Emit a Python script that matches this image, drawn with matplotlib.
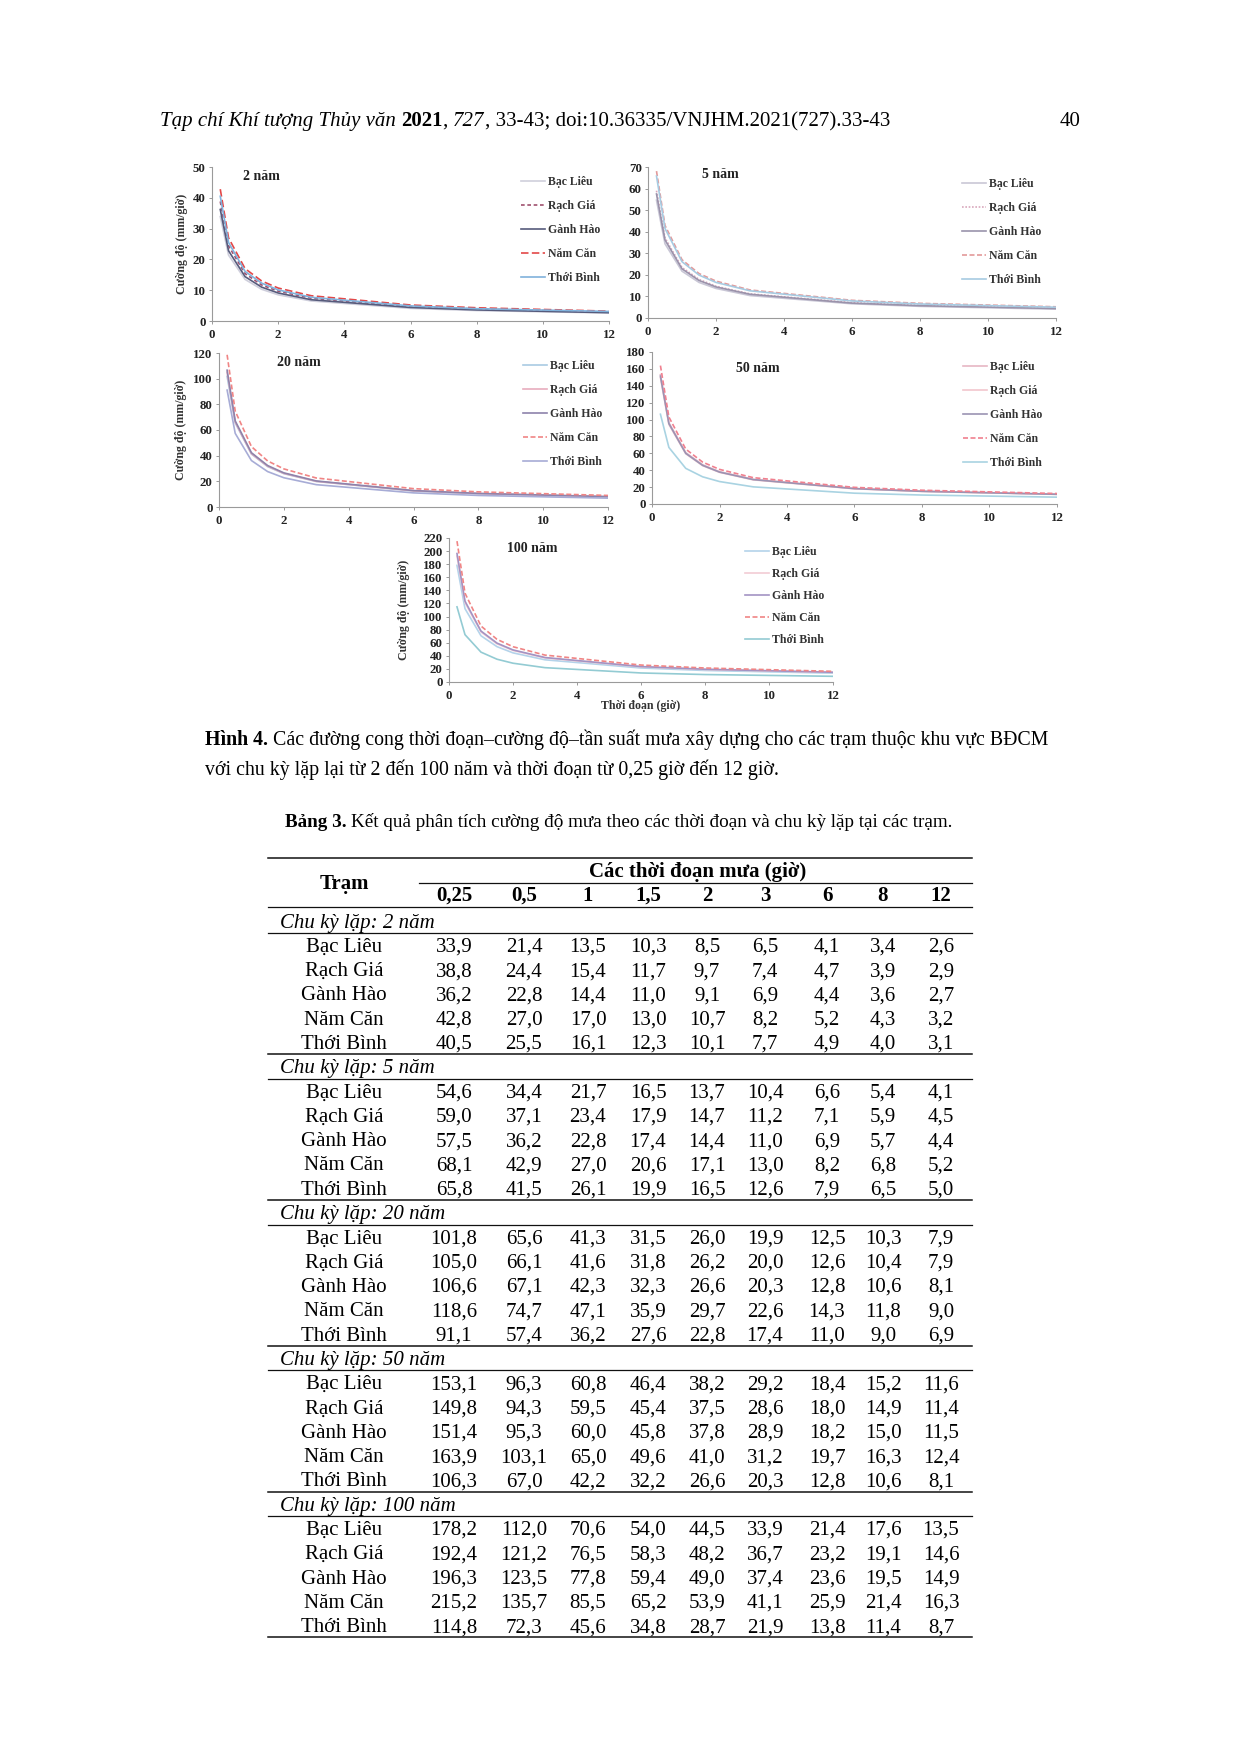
import matplotlib
matplotlib.use("Agg")
import matplotlib.pyplot as plt
from matplotlib.lines import Line2D

W, H, DPI = 1240, 1753, 100

# ---------------- data ----------------
stations = ["Bạc Liêu", "Rạch Giá", "Gành Hào", "Năm Căn", "Thới Bình"]
durations = [0.25, 0.5, 1, 1.5, 2, 3, 6, 8, 12]
duration_labels = ["0,25", "0,5", "1", "1,5", "2", "3", "6", "8", "12"]
period_names = ["2 năm", "5 năm", "20 năm", "50 năm", "100 năm"]

i_2nam = [
    [33.9, 21.4, 13.5, 10.3, 8.5, 6.5, 4.1, 3.4, 2.6],
    [38.8, 24.4, 15.4, 11.7, 9.7, 7.4, 4.7, 3.9, 2.9],
    [36.2, 22.8, 14.4, 11.0, 9.1, 6.9, 4.4, 3.6, 2.7],
    [42.8, 27.0, 17.0, 13.0, 10.7, 8.2, 5.2, 4.3, 3.2],
    [40.5, 25.5, 16.1, 12.3, 10.1, 7.7, 4.9, 4.0, 3.1],
]
i_5nam = [
    [54.6, 34.4, 21.7, 16.5, 13.7, 10.4, 6.6, 5.4, 4.1],
    [59.0, 37.1, 23.4, 17.9, 14.7, 11.2, 7.1, 5.9, 4.5],
    [57.5, 36.2, 22.8, 17.4, 14.4, 11.0, 6.9, 5.7, 4.4],
    [68.1, 42.9, 27.0, 20.6, 17.1, 13.0, 8.2, 6.8, 5.2],
    [65.8, 41.5, 26.1, 19.9, 16.5, 12.6, 7.9, 6.5, 5.0],
]
i_20nam = [
    [101.8, 65.6, 41.3, 31.5, 26.0, 19.9, 12.5, 10.3, 7.9],
    [105.0, 66.1, 41.6, 31.8, 26.2, 20.0, 12.6, 10.4, 7.9],
    [106.6, 67.1, 42.3, 32.3, 26.6, 20.3, 12.8, 10.6, 8.1],
    [118.6, 74.7, 47.1, 35.9, 29.7, 22.6, 14.3, 11.8, 9.0],
    [91.1, 57.4, 36.2, 27.6, 22.8, 17.4, 11.0, 9.0, 6.9],
]
i_50nam = [
    [153.1, 96.3, 60.8, 46.4, 38.2, 29.2, 18.4, 15.2, 11.6],
    [149.8, 94.3, 59.5, 45.4, 37.5, 28.6, 18.0, 14.9, 11.4],
    [151.4, 95.3, 60.0, 45.8, 37.8, 28.9, 18.2, 15.0, 11.5],
    [163.9, 103.1, 65.0, 49.6, 41.0, 31.2, 19.7, 16.3, 12.4],
    [106.3, 67.0, 42.2, 32.2, 26.6, 20.3, 12.8, 10.6, 8.1],
]
i_100nam = [
    [178.2, 112.0, 70.6, 54.0, 44.5, 33.9, 21.4, 17.6, 13.5],
    [192.4, 121.2, 76.5, 58.3, 48.2, 36.7, 23.2, 19.1, 14.6],
    [196.3, 123.5, 77.8, 59.4, 49.0, 37.4, 23.6, 19.5, 14.9],
    [215.2, 135.7, 85.5, 65.2, 53.9, 41.1, 25.9, 21.4, 16.3],
    [114.8, 72.3, 45.6, 34.8, 28.7, 21.9, 13.8, 11.4, 8.7],
]
all_periods = [i_2nam, i_5nam, i_20nam, i_50nam, i_100nam]
y_max = [50, 70, 120, 180, 220]
y_step = [10, 10, 20, 20, 20]

# ---------------- styles ----------------
SERIF = ["Liberation Serif", "DejaVu Serif"]
plt.rcParams["font.family"] = SERIF

line_styles = [
    [("#cfcfdc", "-"), ("#a0506e", (0, (2.2, 1.6))), ("#565b7c", "-"), ("#e34848", (0, (4.5, 2))), ("#80b2dc", "-")],
    [("#c9c7d6", "-"), ("#d8a8bc", (0, (1, 1))), ("#9a93ab", "-"), ("#e39a9a", (0, (3, 1.5))), ("#a7cbe2", "-")],
    [("#a9cbe3", "-"), ("#e7adbd", "-"), ("#8d83ab", "-"), ("#f08585", (0, (3, 1.5))), ("#a7acd6", "-")],
    [("#e6b6c4", "-"), ("#f2c6cd", "-"), ("#9b93b3", "-"), ("#f0808f", (0, (3, 1.5))), ("#a9d3e2", "-")],
    [("#b4d3ea", "-"), ("#f2ccd4", "-"), ("#a393c3", "-"), ("#f08585", (0, (3, 1.5))), ("#93cbd3", "-")],
]

# axes boxes in pixels: left, right, top(ymax), bottom(0)
boxes = [
    (212, 609, 167, 321),
    (648, 1056, 167, 318),
    (219, 608, 353, 507),
    (652, 1057, 352, 504),
    (449, 833, 538, 682),
]
titles_px = [(243, 176), (702, 175), (277, 363), (736, 369), (507, 548)]
legend_px = [(521, 176, 25), (962, 178, 25), (523, 360, 25), (963, 361, 25), (745, 546, 23)]
ylabel_axes = [True, False, True, False, True]

fig = plt.figure(figsize=(W / DPI, H / DPI), dpi=DPI)
fig.patch.set_facecolor("white")


def fx(x):
    return x / W


def fy(y):
    return 1 - y / H


for k, data in enumerate(all_periods):
    l, r, t, b = boxes[k]
    ax = fig.add_axes([fx(l), fy(b), (r - l) / W, (b - t) / H])
    for s, name in enumerate(stations):
        c, ls = line_styles[k][s]
        ax.plot(durations, data[s], color=c, linestyle=ls, lw=1.2, label=name)
    ax.set_xlim(0, 12)
    ax.set_ylim(0, y_max[k])
    ax.set_xticks(range(0, 13, 2))
    ax.set_yticks(range(0, y_max[k] + 1, y_step[k]))
    for sp in ["top", "right"]:
        ax.spines[sp].set_visible(False)
    for sp in ["left", "bottom"]:
        ax.spines[sp].set_color("#9a9a9a")
        ax.spines[sp].set_linewidth(0.8)
    ax.tick_params(axis="both", direction="out", length=2.5, width=0.7, color="#9a9a9a",
                   labelsize=9.3, labelcolor="#222222")
    ax.tick_params(axis="x", pad=3)
    ax.tick_params(axis="y", pad=2)
    for lab in ax.get_xticklabels() + ax.get_yticklabels():
        lab.set_fontweight("bold")
    ax.patch.set_alpha(0)
    tx, ty = titles_px[k]
    fig.text(fx(tx), fy(ty), period_names[k], fontsize=10, fontweight="bold",
             ha="left", va="center", color="#222222")
    if ylabel_axes[k]:
        ax.set_ylabel("Cường độ (mm/giờ)", fontsize=8.6, fontweight="bold", color="#333333")
        lx = {0: 188, 2: 187, 4: 410}[k]
        ax.yaxis.set_label_coords((lx - l) / (r - l), 0.5)
    if k == 4:
        ax.set_xlabel("Thời đoạn (giờ)", fontsize=8.6, fontweight="bold", color="#333333")
        ax.xaxis.set_label_coords(0.5, -(700 - b) / (b - t))
    gx, gy, pitch = legend_px[k]
    leg = ax.legend(loc="upper left", bbox_to_anchor=(fx(gx), fy(gy)), bbox_transform=fig.transFigure,
                    frameon=False, borderpad=0, borderaxespad=0, handlelength=2.0, handletextpad=0.25,
                    labelspacing=(pitch - 13) / 11.8,
                    prop={"family": SERIF, "weight": "bold", "size": 8.5})
    for txt in leg.get_texts():
        txt.set_color("#333333")

# ---------------- page text ----------------
fig.canvas.draw()
rend = fig.canvas.get_renderer()


def text_w(s, **kw):
    t = fig.text(0, 0, s, **kw)
    w = t.get_window_extent(renderer=rend).width
    t.remove()
    return w


def rich(x, y, pieces, size):
    # pieces: (text, style, weight, space_after)
    for txt, style, weight, space in pieces:
        kw = dict(fontsize=size, style=style, fontweight=weight)
        fig.text(fx(x), fy(y), txt, ha="left", va="baseline", **kw)
        x += text_w(txt, **kw)
        if space:
            x += text_w("a a", **kw) - text_w("aa", **kw)


HS = 15
rich(160, 126, [
    ("Tạp chí Khí tượng Thủy văn", "italic", "normal", True),
    ("2021", "normal", "bold", False),
    (",", "normal", "normal", True),
    ("727", "italic", "normal", False),
    (", 33-43; doi:10.36335/VNJHM.2021(727).33-43", "normal", "normal", False),
], HS)
fig.text(fx(1080), fy(126), "40", fontsize=HS, ha="right", va="baseline")

CS = 14.35
rich(205, 745, [
    ("Hình 4.", "normal", "bold", True),
    ("Các đường cong thời đoạn–cường độ–tần suất mưa xây dựng cho các trạm thuộc khu vực BĐCM",
     "normal", "normal", False),
], CS)
rich(205, 775, [
    ("với chu kỳ lặp lại từ 2 đến 100 năm và thời đoạn từ 0,25 giờ đến 12 giờ.", "normal", "normal", False),
], CS)
rich(285, 827, [
    ("Bảng 3.", "normal", "bold", True),
    ("Kết quả phân tích cường độ mưa theo các thời đoạn và chu kỳ lặp tại các trạm.", "normal", "normal", False),
], 13.8)

# ---------------- table ----------------
TS = 15
BL = 6.5  # baseline offset from visual center
col_x = [454, 524, 588, 648, 707, 765, 827, 883, 941]
name_x = 344
tab_l, tab_r = 268, 972


def hline(y, x0=tab_l, x1=tab_r, lw=0.9):
    fig.add_artist(Line2D([fx(x0), fx(x1)], [fy(y), fy(y)], color="#111111", lw=lw,
                          transform=fig.transFigure))


hline(857.5, lw=1.1)
fig.text(fx(698), fy(871 + BL), "Các thời đoạn mưa (giờ)", fontsize=TS, fontweight="bold",
         ha="center", va="baseline")
hline(883, x0=419)
fig.text(fx(name_x), fy(882 + BL), "Trạm", fontsize=TS, fontweight="bold", ha="center", va="baseline")
for cx, lab in zip(col_x, duration_labels):
    fig.text(fx(cx), fy(894.5 + BL), lab, fontsize=TS, fontweight="bold", ha="center", va="baseline")
hline(907)

pitch = 24.3
y0 = 921
for s, data in enumerate(all_periods):
    ylab = y0 + 6 * pitch * s
    if s > 0:
        hline(ylab - 12.5, lw=1.1)
    fig.text(fx(280), fy(ylab + BL), "Chu kỳ lặp: " + period_names[s], fontsize=TS, style="italic",
             ha="left", va="baseline")
    hline(ylab + 12)
    for j, name in enumerate(stations):
        yr = ylab + pitch * (j + 1)
        fig.text(fx(name_x), fy(yr + BL), name, fontsize=TS, ha="center", va="baseline")
        for cx, v in zip(col_x, data[j]):
            fig.text(fx(cx), fy(yr + BL), f"{v:.1f}".replace(".", ","), fontsize=TS,
                     ha="center", va="baseline")
hline(1637, lw=1.1)

fig.savefig("out.png", dpi=DPI, facecolor="white")
